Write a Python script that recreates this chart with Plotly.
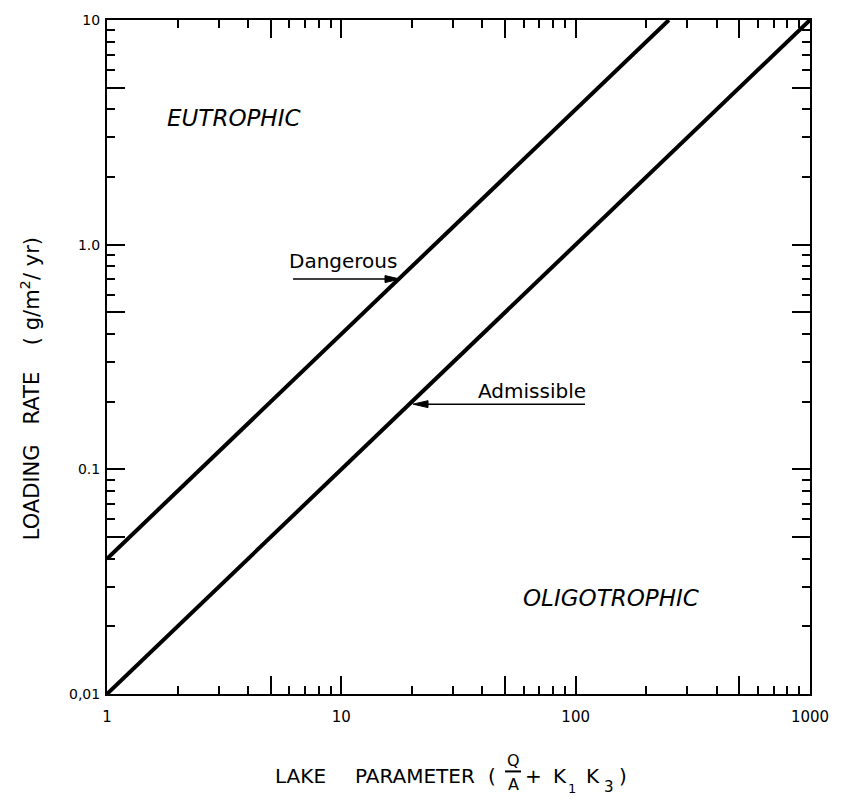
import plotly.graph_objects as go

# Data
x_dangerous = [1, 250]
y_dangerous = [0.04, 10]
x_admissible = [1, 1000]
y_admissible = [0.01, 10]

x_major_vals = [1, 10, 100, 1000]
x_major_text = ["1", "10", "100", "1000"]
x_mid_vals = [5, 50, 500]
x_minor_vals = [m * d for d in (1, 10, 100) for m in (2, 3, 4, 6, 7, 8, 9)]

y_major_vals = [0.01, 0.1, 1, 10]
y_major_text = ["0,01", "0.1", "1.0", "10"]
y_mid_vals = [0.05, 0.5, 5]
y_minor_vals = [m * d for d in (0.01, 0.1, 1) for m in (2, 3, 4, 6, 7, 8, 9)]

FONT = "DejaVu Sans"
BLACK = "black"

fig = go.Figure()
fig.add_trace(go.Scatter(x=x_dangerous, y=y_dangerous, mode="lines",
                         line=dict(color=BLACK, width=4), showlegend=False, hoverinfo="skip"))
fig.add_trace(go.Scatter(x=x_admissible, y=y_admissible, mode="lines",
                         line=dict(color=BLACK, width=4), showlegend=False, hoverinfo="skip"))
# invisible trace to hold the overlay axes carrying the long "5" ticks
fig.add_trace(go.Scatter(x=[x_admissible[0]], y=[y_admissible[0]], xaxis="x2", yaxis="y2",
                         mode="markers", marker=dict(opacity=0), showlegend=False,
                         hoverinfo="skip"))

minor_common = dict(tickmode="array", ticks="inside", ticklen=8, tickwidth=2,
                    tickcolor=BLACK, showgrid=False)
axis_common = dict(
    showgrid=False, zeroline=False, showline=True, linecolor=BLACK, linewidth=2,
    ticks="inside", ticklen=18, tickwidth=2, tickcolor=BLACK, mirror="allticks",
)

fig.update_layout(
    xaxis=dict(type="log", range=[0, 3], tickmode="array",
               tickvals=x_major_vals, ticktext=x_major_text,
               minor=dict(tickvals=x_minor_vals, **minor_common),
               tickfont=dict(family=FONT, size=15, color=BLACK),
               ticklabelstandoff=8, **axis_common),
    yaxis=dict(type="log", range=[-2, 1], tickmode="array",
               tickvals=y_major_vals, ticktext=y_major_text,
               minor=dict(tickvals=y_minor_vals, **minor_common),
               tickfont=dict(family=FONT, size=14, color=BLACK),
               ticklabelstandoff=2, **axis_common),
    xaxis2=dict(type="log", range=[0, 3], overlaying="x", anchor="y", side="bottom",
                tickmode="array", tickvals=x_mid_vals, showticklabels=False,
                **axis_common),
    yaxis2=dict(type="log", range=[-2, 1], overlaying="y", anchor="x", side="left",
                tickmode="array", tickvals=y_mid_vals, showticklabels=False,
                **axis_common),
)

# pixel helpers (plot area: x 107..810, y 15..694)
def px_x(p):
    return (p - 107) / 703.0

def px_y(p):
    return (694 - p) / 679.0

def txt(x, y, text, size, xanchor="center", italic=False, angle=0):
    fig.add_annotation(x=px_x(x), y=px_y(y), xref="paper", yref="paper",
                       text=f"<i>{text}</i>" if italic else text, showarrow=False,
                       xanchor=xanchor, yanchor="middle", textangle=angle,
                       font=dict(family=FONT, size=size, color=BLACK))

def arrow(tail_x, tip_x, y):
    d = 1 if tip_x > tail_x else -1
    fig.add_shape(type="line", xref="paper", yref="paper",
                  x0=px_x(tail_x), x1=px_x(tip_x - d * 8), y0=px_y(y), y1=px_y(y),
                  line=dict(color=BLACK, width=1.5))
    bx = tip_x - d * 15
    path = (f"M {px_x(tip_x)},{px_y(y)} L {px_x(bx)},{px_y(y - 3.5)} "
            f"L {px_x(bx)},{px_y(y + 3.5)} Z")
    fig.add_shape(type="path", xref="paper", yref="paper", path=path,
                  fillcolor=BLACK, line=dict(color=BLACK, width=1))

# Region labels
txt(165, 114, "EUTROPHIC", 23, xanchor="left", italic=True)
txt(521, 597, "OLIGOTROPHIC", 23, xanchor="left", italic=True)

# Curve labels with arrows
txt(287, 258, "Dangerous", 20, xanchor="left")
txt(476, 389, "Admissible", 20, xanchor="left")
arrow(293, 400, 276)
arrow(585, 413, 402)

# y-axis title
txt(30, 387, "LOADING\u00a0\u00a0\u00a0RATE\u00a0\u00a0\u00a0\u00a0(\u00a0g/m<sup>2</sup>/\u00a0yr)",
    21, angle=-90)

# x-axis title built from pieces
txt(273, 777, "LAKE", 20, xanchor="left")
txt(353, 777, "PARAMETER", 20, xanchor="left")
txt(486, 777, "(", 20, xanchor="left")
txt(513, 761, "Q", 16)
txt(513, 785, "A", 16)
fig.add_shape(type="line", xref="paper", yref="paper",
              x0=px_x(505), x1=px_x(521), y0=px_y(772), y1=px_y(772),
              line=dict(color=BLACK, width=2))
txt(533, 777, "+", 20)
txt(560, 777, "K", 20)
txt(572, 789, "1", 13)
txt(593, 777, "K", 20)
txt(609, 788, "3", 15)
txt(623, 777, ")", 20)

fig.update_layout(
    width=845, height=803,
    margin=dict(l=107, r=35, t=15, b=109),
    plot_bgcolor="white", paper_bgcolor="white",
    showlegend=False,
)

fig.write_html("out.html")
